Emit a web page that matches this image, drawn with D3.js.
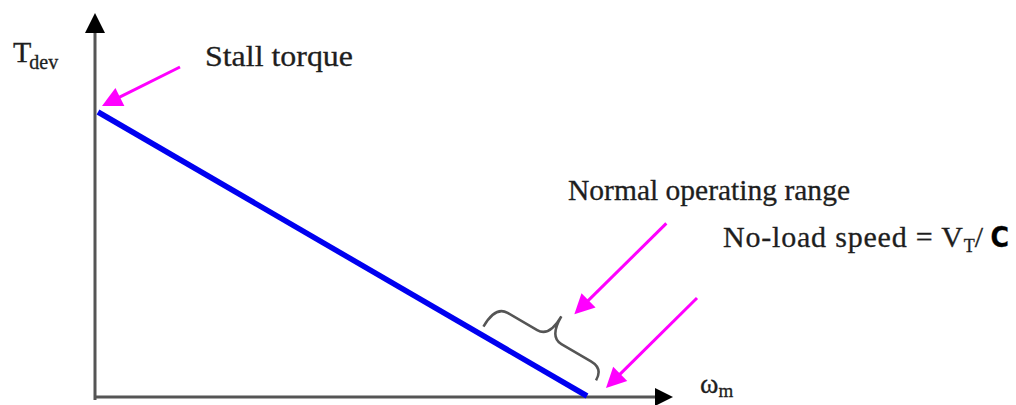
<!DOCTYPE html>
<html>
<head>
<meta charset="utf-8">
<script src="https://cdn.jsdelivr.net/npm/d3@7"></script>
<style>
  body { margin: 0; background: #fff; }
  svg { display: block; }
  text { font-family: "Liberation Serif", "Times New Roman", serif; fill: #1e1e1e; stroke: #1e1e1e; stroke-width: 0.3px; }
</style>
</head>
<body>
<div id="chart"></div>
<script>
// torque-speed characteristic (normalised: speed / no-load speed, torque / stall torque)
var speed = [0, 1];
var torque = [1, 0];
// normal operating range, as fraction of no-load speed
var operatingRange = [0.78, 1.0];

var width = 1016,
    height = 405;

var svg = d3.select("#chart").append("svg")
    .attr("width", width)
    .attr("height", height);

// scales for the characteristic line
var x = d3.scaleLinear().domain([0, 1]).range([98, 587]);
var y = d3.scaleLinear().domain([0, 1]).range([396, 112]);

var axisX0 = 95, axisY0 = 397;

// axes with arrow heads
var axisColor = "#555";
svg.append("line")
    .attr("x1", axisX0).attr("y1", axisY0 + 3)
    .attr("x2", axisX0).attr("y2", 30)
    .attr("stroke", axisColor).attr("stroke-width", 3);
svg.append("path")
    .attr("d", "M" + axisX0 + ",13 L" + (axisX0 - 10) + ",33 L" + (axisX0 + 10) + ",33 Z")
    .attr("fill", "#000");

svg.append("line")
    .attr("x1", axisX0 - 1).attr("y1", axisY0)
    .attr("x2", 658).attr("y2", axisY0)
    .attr("stroke", axisColor).attr("stroke-width", 3);
svg.append("path")
    .attr("d", "M673," + axisY0 + " L655," + (axisY0 - 9) + " L655," + (axisY0 + 9) + " Z")
    .attr("fill", "#000");

// the characteristic line
var pts = speed.map(function(d, i) { return [d, torque[i]]; });
svg.append("path")
    .datum(pts)
    .attr("d", d3.line().x(function(d) { return x(d[0]); }).y(function(d) { return y(d[1]); }))
    .attr("stroke", "#0000f0")
    .attr("stroke-width", 5.5)
    .attr("fill", "none");

// brace along the line for the operating range
var p0 = [x(speed[0]), y(torque[0])],
    p1 = [x(speed[1]), y(torque[1])];
var ang = Math.atan2(p1[1] - p0[1], p1[0] - p0[0]);
var lenAll = Math.hypot(p1[0] - p0[0], p1[1] - p0[1]);
var t0 = operatingRange[0] * lenAll,
    t1 = operatingRange[1] * lenAll,
    tm = (t0 + t1) / 2;
var sEnd = -8, sArm = -32, sTip = -56, r = 14;
var braceD = "M" + t0 + "," + sEnd +
    " Q" + t0 + "," + sArm + " " + (t0 + r) + "," + sArm +
    " L" + (tm - r) + "," + sArm +
    " Q" + tm + "," + sArm + " " + tm + "," + sTip +
    " Q" + tm + "," + sArm + " " + (tm + r) + "," + sArm +
    " L" + (t1 - r) + "," + sArm +
    " Q" + t1 + "," + sArm + " " + t1 + "," + (sEnd - 10);
svg.append("path")
    .attr("transform", "translate(" + p0[0] + "," + p0[1] + ") rotate(" + (ang * 180 / Math.PI) + ")")
    .attr("d", braceD)
    .attr("fill", "none")
    .attr("stroke", "#555")
    .attr("stroke-width", 2.5);

// cusp position in screen coords
var ca = Math.cos(ang), sa = Math.sin(ang);
var cusp = [p0[0] + tm * ca - sTip * sa, p0[1] + tm * sa + sTip * ca];

// magenta pointer arrows
function arrow(tip, dx, dy) {
    var L = Math.hypot(dx, dy), ux = dx / L, uy = dy / L;
    var head = 20, hw = 10;
    var bx = tip[0] + ux * head, by = tip[1] + uy * head;
    svg.append("line")
        .attr("x1", tip[0] + dx).attr("y1", tip[1] + dy)
        .attr("x2", bx - ux * 2).attr("y2", by - uy * 2)
        .attr("stroke", "#ff00ff").attr("stroke-width", 3);
    svg.append("path")
        .attr("d", "M" + tip[0] + "," + tip[1] +
            " L" + (bx - uy * hw) + "," + (by + ux * hw) +
            " L" + (bx + uy * hw) + "," + (by - ux * hw) + " Z")
        .attr("fill", "#ff00ff");
}
arrow([x(0) + 4, y(1) - 6], 78, -39);
arrow([cusp[0] + 13, cusp[1] - 2], 92, -91);
arrow([x(1) + 19, y(0) - 8], 91, -90);

// labels
var tdev = svg.append("text").attr("x", 13).attr("y", 62).style("font-size", "30px");
tdev.append("tspan").text("T");
tdev.append("tspan").attr("dx", -2).attr("dy", 7).style("font-size", "20px").text("dev");

svg.append("text").attr("x", 205).attr("y", 66)
    .style("font-size", "30px")
    .attr("textLength", 148).attr("lengthAdjust", "spacingAndGlyphs")
    .text("Stall torque");

svg.append("text").attr("x", 568).attr("y", 200)
    .style("font-size", "30px")
    .attr("textLength", 282).attr("lengthAdjust", "spacingAndGlyphs")
    .text("Normal operating range");

var nl = svg.append("text").attr("x", 723).attr("y", 247).style("font-size", "30px");
nl.append("tspan").style("letter-spacing", "0.8px").text("No-load speed = V");
nl.append("tspan").attr("dy", 5).style("font-size", "18px").text("T");
nl.append("tspan").attr("dy", -5).text("/ ");
nl.append("tspan")
    .style("font-family", "'DejaVu Sans Condensed', 'DejaVu Sans', sans-serif")
    .style("font-weight", "bold").style("font-size", "28px").style("fill", "#000")
    .text("C");

var wm = svg.append("text").attr("x", 700).attr("y", 393).style("font-size", "28px");
wm.append("tspan").text("ω");
wm.append("tspan").attr("dy", 4).style("font-size", "19px").text("m");
</script>
</body>
</html>
